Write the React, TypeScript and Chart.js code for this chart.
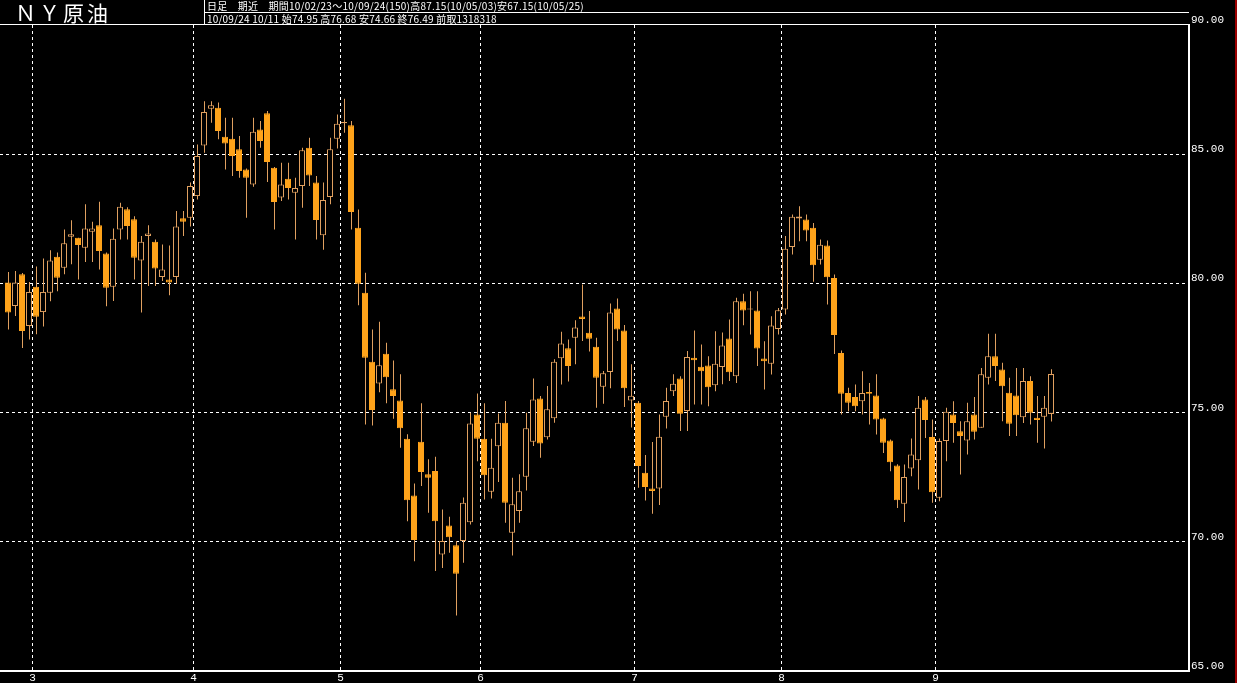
import React, { useEffect, useRef } from 'react';
import { Chart, registerables } from 'chart.js';

Chart.register(...registerables);

// ---- data (2010/02/23 - 2010/09/24, 150 daily candles) ----
const opens = [
  80.03, 79.13, 80.35, 78.35, 79.87, 78.89, 79.64, 81.03, 80.61, 81.81,
  81.77, 81.38, 82.00, 82.25, 81.16, 79.87, 82.09, 82.87, 82.48, 80.89,
  81.83, 81.61, 80.25, 80.15, 80.25, 82.52, 82.54, 83.38, 85.34, 86.76,
  86.80, 85.68, 85.60, 85.19, 84.41, 83.83, 85.96, 86.58, 84.48, 83.32,
  84.05, 83.51, 83.77, 85.25, 83.90, 81.86, 83.34, 85.60, 86.20, 86.12,
  82.15, 79.64, 76.97, 76.13, 77.28, 75.90, 75.47, 73.99, 71.79, 73.87,
  72.61, 72.74, 69.51, 70.63, 69.87, 70.03, 70.76, 74.93, 73.99, 71.94,
  73.70, 74.61, 70.35, 71.19, 72.52, 73.87, 75.55, 74.05, 74.78, 77.10,
  77.49, 77.90, 78.72, 78.09, 77.55, 76.00, 76.57, 79.03, 78.18, 75.47,
  75.38, 72.67, 72.06, 72.06, 74.84, 75.83, 76.32, 75.06, 77.12, 76.77,
  76.82, 76.06, 76.76, 77.87, 76.41, 79.31, 78.99, 78.95, 77.09, 76.89,
  78.24, 78.99, 81.41, 82.51, 82.47, 82.15, 80.92, 81.47, 80.21, 77.31,
  75.76, 75.60, 75.44, 75.80, 75.66, 74.77, 73.92, 72.95, 71.47, 72.84,
  73.16, 75.51, 74.06, 71.70, 73.90, 74.93, 74.28, 73.92, 74.93, 74.41,
  76.35, 77.18, 76.67, 75.77, 75.66, 74.82, 76.22, 74.80, 74.84, 74.95,
];
const highs = [
  80.44, 80.48, 80.40, 80.05, 80.65, 80.96, 81.28, 81.20, 82.09, 82.44,
  81.77, 83.06, 82.39, 83.16, 81.20, 82.12, 83.12, 82.95, 82.60, 81.83,
  82.25, 81.70, 81.51, 81.47, 82.80, 82.80, 83.90, 85.38, 87.05, 87.05,
  87.00, 86.41, 86.41, 85.70, 84.45, 86.41, 86.28, 86.67, 84.50, 84.67,
  84.67, 84.09, 85.25, 85.64, 84.16, 83.90, 85.64, 86.54, 87.15, 86.28,
  82.86, 80.41, 78.22, 78.52, 77.70, 77.02, 76.48, 74.16, 72.26, 75.36,
  73.19, 73.29, 71.25, 70.97, 70.03, 71.71, 74.99, 75.74, 75.36, 73.99,
  74.97, 75.45, 72.48, 72.61, 74.99, 76.32, 75.64, 76.03, 77.06, 78.13,
  77.83, 78.57, 79.96, 78.93, 77.90, 76.61, 79.22, 79.42, 78.39, 76.87,
  75.45, 73.36, 73.86, 74.93, 75.96, 76.48, 76.41, 77.38, 78.18, 77.64,
  77.18, 78.15, 78.10, 78.60, 79.44, 79.60, 79.70, 79.70, 77.76, 78.73,
  79.05, 81.83, 82.67, 82.99, 82.67, 82.34, 81.70, 81.66, 80.34, 77.40,
  75.96, 76.09, 76.60, 76.15, 76.48, 74.80, 73.96, 73.00, 72.99, 74.00,
  75.64, 75.60, 74.73, 74.00, 75.19, 75.44, 74.67, 75.38, 75.60, 76.73,
  78.05, 78.05, 76.93, 76.35, 76.73, 76.73, 76.41, 75.64, 75.64, 76.68,
];
const lows = [
  78.22, 78.74, 77.50, 77.83, 78.03, 78.33, 79.31, 79.70, 80.35, 80.74,
  80.15, 80.83, 80.83, 80.54, 79.12, 79.32, 81.70, 81.70, 80.15, 78.87,
  79.90, 79.90, 80.09, 79.54, 79.99, 81.83, 82.20, 83.25, 85.06, 86.22,
  85.58, 84.41, 84.16, 84.09, 82.54, 83.74, 85.25, 83.92, 82.09, 83.19,
  83.25, 81.70, 82.93, 83.77, 81.70, 81.30, 83.06, 85.22, 85.83, 82.09,
  79.15, 74.54, 74.50, 75.79, 75.36, 74.76, 73.64, 70.80, 69.25, 72.16,
  71.12, 68.87, 68.99, 69.58, 67.15, 69.19, 70.67, 73.12, 71.64, 71.68,
  72.31, 70.74, 69.47, 70.74, 71.99, 73.71, 73.25, 73.96, 74.61, 76.09,
  76.20, 76.87, 77.77, 77.36, 75.19, 75.34, 75.94, 77.77, 75.22, 74.42,
  72.09, 71.60, 71.09, 71.42, 74.38, 75.64, 74.29, 74.29, 75.31, 75.31,
  75.25, 75.83, 76.10, 76.22, 76.15, 78.38, 78.02, 76.80, 75.89, 76.47,
  78.02, 78.80, 81.12, 81.63, 81.63, 80.06, 80.73, 79.18, 77.27, 74.93,
  75.05, 75.05, 74.93, 74.54, 74.15, 73.44, 72.73, 71.31, 70.77, 72.54,
  72.02, 74.02, 71.51, 71.57, 73.12, 73.83, 72.60, 73.38, 73.96, 74.41,
  76.09, 76.22, 74.67, 74.09, 74.09, 74.60, 74.54, 73.83, 73.61, 74.66,
];
const closes = [
  78.87, 80.03, 78.16, 79.67, 78.71, 79.67, 80.89, 80.22, 81.55, 81.90,
  81.49, 82.12, 82.12, 81.25, 79.83, 81.73, 82.97, 82.22, 80.99, 81.61,
  81.93, 80.58, 80.54, 80.03, 82.20, 82.39, 83.77, 84.93, 86.63, 86.89,
  85.90, 85.41, 84.93, 84.35, 84.09, 85.87, 85.51, 84.70, 83.15, 83.83,
  83.69, 83.69, 85.15, 84.18, 82.45, 83.23, 85.19, 86.18, 86.25, 82.76,
  79.99, 77.12, 75.10, 76.83, 76.37, 75.64, 74.39, 71.61, 70.07, 72.70,
  72.48, 70.80, 70.03, 70.18, 68.76, 71.51, 74.58, 73.99, 72.58, 72.87,
  74.61, 71.51, 71.45, 71.96, 74.39, 75.51, 73.80, 75.13, 76.97, 77.67,
  76.80, 78.29, 78.62, 77.86, 76.35, 76.52, 78.87, 78.22, 75.94, 75.65,
  72.93, 72.12, 71.97, 74.07, 75.45, 76.12, 74.96, 77.15, 77.03, 76.60,
  75.98, 76.89, 77.60, 76.56, 79.31, 78.95, 79.00, 77.48, 76.99, 78.37,
  78.96, 81.34, 82.58, 82.59, 82.05, 80.70, 81.50, 80.24, 78.00, 75.73,
  75.38, 75.25, 75.76, 75.73, 74.73, 73.83, 73.08, 71.61, 72.51, 73.38,
  75.19, 74.71, 71.92, 73.90, 75.03, 74.60, 74.09, 74.67, 74.26, 76.48,
  77.18, 76.80, 76.02, 74.57, 74.90, 76.22, 74.99, 74.71, 75.19, 76.49,
];

// month boundaries (between candle indices) and their labels
const monthTickPositions = [3.5, 26.5, 47.5, 67.5, 89.5, 110.5, 132.5];
const monthLabels = ['3', '4', '5', '6', '7', '8', '9'];
const priceTicks = [65, 70, 75, 80, 85, 90];

const titleText = 'ＮＹ原油';
const headerLine1 = '日足　期近　期間10/02/23～10/09/24(150)高87.15(10/05/03)安67.15(10/05/25)';
const headerLine2 = '10/09/24 10/11 始74.95 高76.68 安74.66 終76.49 前取1318318';

// ---- style ----
const FILL = '#FFA31A';
const EDGE = '#E0A060';
const X_MIN = -8 / 7;
const X_MAX = X_MIN + 1189 / 7;
const WICK_SHIFT = 0.5 / 7;

export default function App() {
  const ref = useRef<HTMLCanvasElement>(null);

  useEffect(() => {
    document.body.style.margin = '0';
    document.body.style.background = '#000';
    const idx = opens.map((_, i) => i);
    const up = closes.map((c, i) => c >= opens[i]);
    const tickFont = { family: '"Liberation Mono", "DejaVu Sans Mono", monospace', size: 11 };

    const chart = new Chart(ref.current!, {
      type: 'bar',
      data: {
        datasets: [
          {
            label: 'body',
            data: idx.map((i) => ({ x: i, y: [opens[i], closes[i]] })) as any,
            xAxisID: 'x',
            yAxisID: 'y',
            order: 0,
            grouped: false,
            barThickness: 6,
            minBarLength: 1,
            inflateAmount: 0,
            borderSkipped: false,
            borderWidth: 1,
            backgroundColor: up.map((u) => (u ? '#000000' : FILL)),
            borderColor: up.map((u) => (u ? EDGE : FILL)),
          } as any,
          {
            label: 'wick',
            data: idx.map((i) => ({ x: i, y: [lows[i], highs[i]] })) as any,
            xAxisID: 'xw',
            yAxisID: 'y',
            order: 1,
            grouped: false,
            barThickness: 1,
            inflateAmount: 0,
            borderWidth: 0,
            backgroundColor: EDGE,
          } as any,
        ],
      },
      options: {
        animation: false,
        responsive: false,
        devicePixelRatio: 1,
        layout: { padding: { top: 25, left: 0, right: 0, bottom: 0 } },
        plugins: { legend: { display: false }, tooltip: { enabled: false } },
        scales: {
          x: {
            type: 'linear',
            min: X_MIN,
            max: X_MAX,
            offset: false,
            afterBuildTicks: (s: any) => {
              s.ticks = monthTickPositions.map((v) => ({ value: v }));
            },
            afterFit: (s: any) => {
              s.height = 12;
            },
            ticks: {
              autoSkip: false,
              maxRotation: 0,
              minRotation: 0,
              padding: 0,
              color: '#ffffff',
              font: tickFont,
              callback: (v: any) => {
                const k = monthTickPositions.indexOf(Number(v));
                return k >= 0 ? monthLabels[k] : '';
              },
            },
            grid: { offset: false, color: '#ffffff', lineWidth: 1, drawTicks: false },
            border: { display: true, color: '#ffffff', width: 2, dash: [3, 3] },
          },
          xw: {
            type: 'linear',
            display: false,
            min: X_MIN - WICK_SHIFT,
            max: X_MAX - WICK_SHIFT,
            offset: false,
            grid: { offset: false },
          },
          y: {
            type: 'linear',
            position: 'right',
            min: 65,
            max: 90,
            afterBuildTicks: (s: any) => {
              s.ticks = priceTicks.map((v) => ({ value: v }));
            },
            afterFit: (s: any) => {
              s.width = 48;
            },
            ticks: {
              color: '#ffffff',
              font: tickFont,
              padding: 2,
              labelOffset: -5,
              callback: (v: any) => Number(v).toFixed(2),
            },
            grid: {
              drawTicks: false,
              lineWidth: 1,
              color: (c: any) =>
                c.tick && (c.tick.value === 65 || c.tick.value === 90) ? 'rgba(0,0,0,0)' : '#ffffff',
            },
            border: { display: true, color: '#ffffff', width: 2, dash: [3, 3] },
          },
        },
      } as any,
    });
    return () => chart.destroy();
  }, []);

  const textFont = '"Noto Sans CJK JP", sans-serif';

  return (
    <div
      style={{
        position: 'relative',
        width: 1237,
        height: 683,
        background: '#000',
        overflow: 'hidden',
      }}
    >
      <canvas ref={ref} width={1237} height={683} style={{ position: 'absolute', left: 0, top: 0 }} />
      <div
        style={{
          position: 'absolute',
          left: 15,
          top: 0,
          height: 24,
          lineHeight: '24px',
          fontFamily: textFont,
          fontSize: 21,
          letterSpacing: 3,
          color: '#ffffff',
          whiteSpace: 'nowrap',
        }}
      >
        {titleText}
      </div>
      <div style={{ position: 'absolute', left: 204, top: 0, width: 1, height: 24, background: '#fff' }} />
      <div style={{ position: 'absolute', left: 204, top: 12, width: 985, height: 1, background: '#fff' }} />
      <div style={{ position: 'absolute', left: 0, top: 24, width: 1189, height: 1, background: '#fff' }} />
      <div
        style={{
          position: 'absolute',
          left: 207,
          top: 0,
          height: 12,
          lineHeight: '12px',
          fontFamily: textFont,
          fontSize: 10,
          letterSpacing: 0.25,
          color: '#ffffff',
          whiteSpace: 'nowrap',
        }}
      >
        {headerLine1}
      </div>
      <div
        style={{
          position: 'absolute',
          left: 207,
          top: 13,
          height: 11,
          lineHeight: '11px',
          fontFamily: textFont,
          fontSize: 10,
          letterSpacing: 0.2,
          color: '#ffffff',
          whiteSpace: 'nowrap',
        }}
      >
        {headerLine2}
      </div>
      <div style={{ position: 'absolute', left: 1235, top: 0, width: 2, height: 683, background: '#9a0000' }} />
    </div>
  );
}
